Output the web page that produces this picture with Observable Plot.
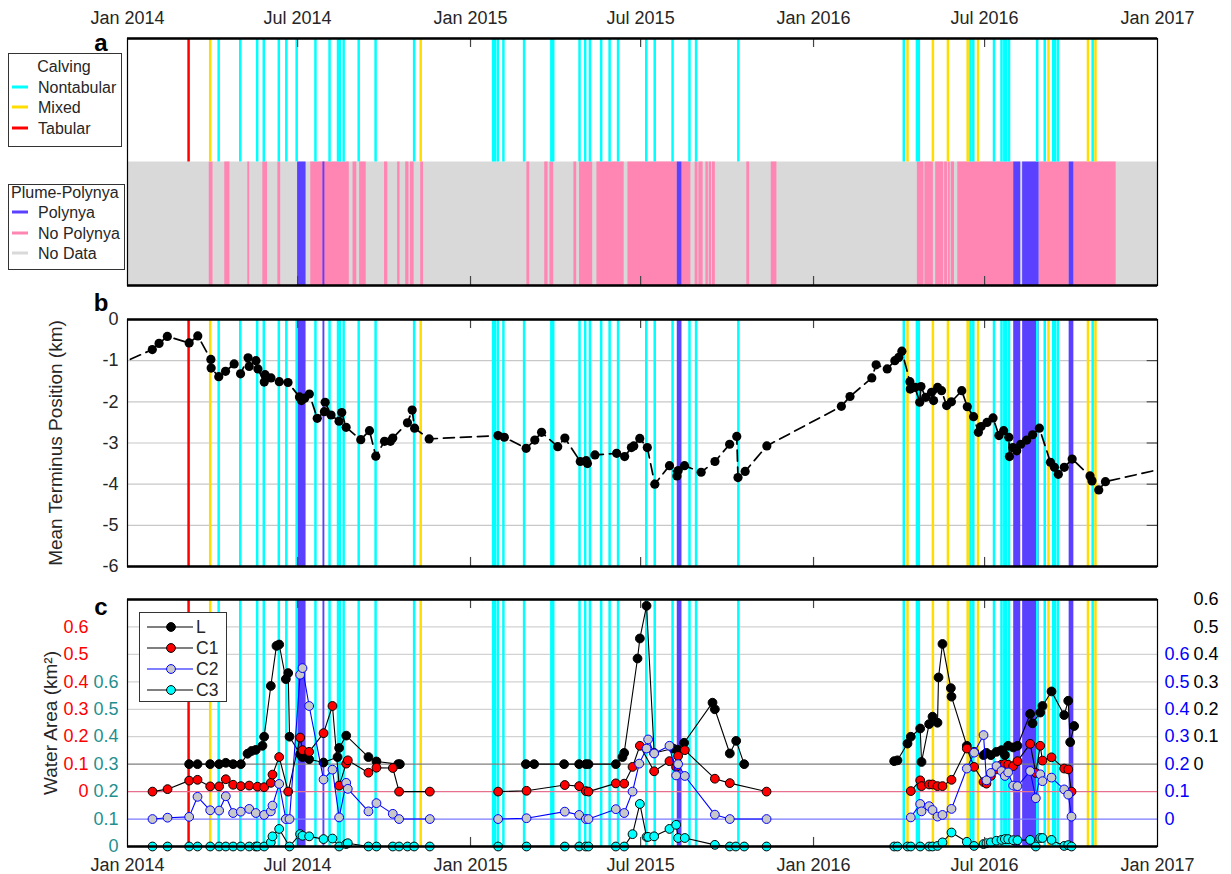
<!DOCTYPE html>
<html><head><meta charset="utf-8">
<script src="https://cdn.jsdelivr.net/npm/d3@7"></script>
<script src="https://cdn.jsdelivr.net/npm/@observablehq/plot@0.6"></script>
<style>
body{margin:0;background:#fff;}
#root{position:relative;width:1231px;height:874px;overflow:hidden;background:#fff;}
</style></head>
<body><div id="root"></div>
<script>
// ---------- DATA (days since 2014-01-01) ----------
const tickDates = ["2014-01-01","2014-07-01","2015-01-01","2015-07-01","2016-01-01","2016-07-01","2017-01-01"];
const tickLabels = ["Jan 2014","Jul 2014","Jan 2015","Jul 2015","Jan 2016","Jul 2016","Jan 2017"];

const nontabularDays = [97,120,138,145,161,169,180,200,215,224,226,230,246,264,305,389,391,394,400,422,451,453,481,487,492,504,513,522,552,561,580,598,605,650,826,840,842,897,900,922,930,933,935,938,968,976,985,987,990,1027];
const mixedDays = [88,312,830,857,873,894,905,980,1022,1030];
const tabularDays = [65];

const polynyaSegs = [[181,190],[208,210],[585,590],[943,950.5],[952.5,970],[1002,1007]];
const noPolynyaSegs = [[87,91],[103.5,109],[128,130],[144,149],[160,163],[195,236],[240,244],[247,254],[273.5,277],[287.5,290],[296,299.5],[301,305],[312,315],[425,428],[444,447.5],[449.5,453.5],[475,478],[481,495],[499.5,528.5],[532.5,585],[590,599.5],[604,607],[608,612.5],[615.5,618],[619,621.5],[622.5,625.5],[659,662],[685,691],[840.5,847.5],[848.5,857.5],[860,868.5],[869.5,872.5],[873.5,875.5],[876.5,880],[883.5,943],[970,1002],[1007,1052]];

// mean terminus position (km)
const terminus = [[-30,-1.30],[26.4,-0.73],[33.6,-0.58],[42.4,-0.41],[65.6,-0.57],[74.8,-0.40],[88.7,-0.97],[89,-1.18],[97.1,-1.39],[104.3,-1.26],[113.5,-1.08],[120.3,-1.32],[128.3,-0.93],[129.5,-1.14],[136.7,-1.00],[138.8,-1.20],[145.5,-1.52],[146.4,-1.34],[152.7,-1.42],[161.5,-1.51],[170.8,-1.53],[183,-1.88],[185.1,-1.97],[188.5,-1.91],[193.5,-1.81],[201.9,-2.40],[209.5,-2.24],[210.3,-2.01],[216.6,-2.32],[225.1,-2.47],[228,-2.26],[232.6,-2.62],[248.2,-2.92],[257.5,-2.70],[264.2,-3.32],[273.5,-2.96],[279.8,-2.96],[282.3,-2.88],[297.9,-2.51],[302.9,-2.20],[305.5,-2.64],[321,-2.90],[394.3,-2.82],[401,-2.86],[424.2,-3.13],[433.4,-2.93],[440.6,-2.74],[457.8,-3.09],[465.4,-2.88],[481.8,-3.45],[488.1,-3.43],[489.4,-3.50],[497.4,-3.29],[520.5,-3.25],[529,-3.33],[536.2,-3.11],[538.7,-3.07],[545.1,-2.89],[553.1,-3.11],[561.1,-4.00],[576.7,-3.55],[584.7,-3.80],[586,-3.67],[592.7,-3.55],[610.4,-3.71],[625.1,-3.45],[640.7,-3.03],[648.3,-2.84],[649.6,-3.84],[657.2,-3.69],[680.3,-3.07],[759.6,-2.11],[768.8,-1.87],[792,-1.42],[796.6,-1.10],[808.4,-1.20],[816.5,-1.00],[820.7,-0.92],[824,-0.77],[832.5,-1.51],[832.9,-1.69],[838,-1.65],[843,-2.01],[844.3,-1.63],[849.3,-1.89],[855.6,-1.77],[857.7,-1.97],[862,-1.65],[866.2,-1.73],[871.6,-2.09],[876.7,-2.00],[887.7,-1.73],[893.6,-2.12],[900.3,-2.36],[905.4,-2.74],[908.3,-2.60],[914.6,-2.50],[921,-2.39],[927.3,-2.82],[932.3,-2.70],[937.8,-2.86],[938.5,-3.33],[942,-3.11],[946.2,-3.19],[950.5,-3.03],[956.8,-2.93],[963.1,-2.80],[970.3,-2.64],[982.1,-3.47],[986.3,-3.59],[990.5,-3.76],[996.8,-3.59],[1005.2,-3.39],[1024.2,-3.80],[1026.3,-3.92],[1033.5,-4.14],[1040.6,-3.94],[1110,-3.58]];
const terminusTicks = [0,-1,-2,-3,-4,-5,-6];

// water area (km^2)
const seriesL = [[65.6,0],[74.5,0],[88,0],[97.5,0],[104.6,0.005],[112.4,0],[120.6,0],[127.7,0.038],[132,0.048],[136.5,0.052],[143.6,0.067],[145.4,0.10],[152.5,0.285],[158.5,0.431],[161.4,0.436],[168.5,0.31],[171,0.332],[172.4,0.10],[183.7,0.036],[186.2,0.026],[193.3,0.018],[208.6,0.006],[223.5,0.026],[225.2,0.059],[232.7,0.104],[256.4,0.026],[264.9,0.01],[288,0],[289.8,0],
 [423.9,0],[432.7,0],[464.6,0],[480.6,0],[487.7,0],[490.5,0],[519.6,0],[526.7,0.026],[528.5,0.041],[542.7,0.385],[545.2,0.458],[552.3,0.577],[560.4,0.041],[580.6,0.057],[585.2,0.053],[592.3,0.078],[622.5,0.224],[625,0.20],[640.9,0.039],[647.7,0.085],[656.2,0],
 [815.8,0.011],[819.3,0.014],[830,0.075],[833.5,0.10],[843.5,0.13],[844.9,0.008],[853,0.146],[856.6,0.173],[861.9,0.151],[863,0.316],[867.2,0.438],[876.1,0.277],[876.8,0.246],[893.1,0.067],[900.9,0.045],[910.9,0.033],[914,0.041],[918.7,0.033],[924.7,0.045],[930,0.051],[933.6,0.033],[937.1,0.067],[942.4,0.061],[947,0.067],[960.5,0.183],[963,0.149],[971.2,0.188],[973.6,0.212],[983.2,0.265],[996.7,0.179],[1001,0.231],[1003.1,0.08],[1007.3,0.139]];
const seriesC1 = [[26.6,0],[42.6,0.009],[65.6,0.04],[74.5,0.043],[88,0.019],[97.5,0.019],[104.6,0.045],[112.4,0.025],[120.6,0.02],[129.5,0.022],[138.3,0.018],[145.4,0.016],[152.5,0.032],[154.3,0.062],[161.4,0.126],[171,0],[183.7,0.197],[186.2,0.151],[193.3,0.145],[208.6,0.213],[218.1,0.312],[225.2,0.022],[232.7,0.102],[234.4,0.114],[256.4,0.069],[264.9,0.087],[282.3,0.086],[289,0],[321.7,0],
 [394.4,0],[424.6,0.003],[465.3,0.024],[480.6,0.02],[487.7,0.002],[490.5,0],[519.6,0.03],[528.5,0.029],[537.4,0.09],[545.2,0.167],[560.4,0.074],[576.7,0.111],[583.8,0.09],[585.9,0.13],[593,0.151],[625,0.047],[640.9,0.031],[680,0],
 [833.5,0.002],[843.5,0.041],[844.9,0.02],[853,0.026],[856.6,0.026],[861.9,0.02],[867.2,0.02],[876.8,0.043],[893.1,0.157],[900.9,0.09],[910.9,0.035],[914,0.029],[918.7,0.057],[924.7,0.081],[930,0.098],[933.6,0.101],[937.1,0.098],[942.4,0.093],[947,0.111],[960.5,0.174],[966.5,0.068],[971.2,0.167],[973.6,0.113],[983.2,0.125],[996.7,0.084],[1001,0.081],[1004.5,0]];
const seriesC2 = [[26.6,0],[42.6,0.005],[65.6,0.008],[74.5,0.081],[88,0.032],[97.5,0.031],[104.6,0.083],[112.4,0.022],[120.6,0.027],[129.5,0.037],[136.5,0.022],[145.4,0.015],[152.5,0.028],[154.3,0.049],[161.4,0.128],[168.5,0],[172.4,0],[183.7,0.526],[186.2,0.55],[193.3,0.412],[208.6,0.144],[218.1,0.18],[225.2,0.006],[232.7,0.132],[234.4,0.11],[256.4,0.028],[264.9,0.058],[282.3,0.019],[289,0],[321.7,0],
 [394.4,0],[424.6,0.003],[465.3,0.027],[480.6,0.015],[487.7,0],[490.5,0],[519.6,0.036],[528.5,0.022],[537.4,0.10],[544.5,0.202],[552.3,0.257],[554,0.29],[560.4,0.239],[576.7,0.267],[583.8,0.159],[585.9,0.2],[593,0.157],[625,0.016],[640.9,0],[680,0],
 [833.5,0.006],[843.5,0.055],[844.9,0.028],[853,0.047],[856.6,0.033],[861.9,0.009],[867.2,0.015],[876.8,0.037],[893.1,0.184],[900.9,0.242],[910.9,0.306],[914,0.141],[918.7,0.168],[924.7,0.193],[930,0.175],[933.6,0.157],[937.1,0.17],[942.4,0.122],[947,0.12],[960.5,0.175],[966.5,0.076],[971.2,0.163],[973.6,0.138],[983.2,0.151],[996.7,0.108],[1001,0.089],[1004.5,0.009]];
const seriesC3 = [[26.6,0],[42.6,0],[65.6,0],[74.5,0],[88,0],[97.5,0],[104.6,0],[112.4,0],[120.6,0],[129.5,0],[136.5,0],[138.3,0],[145.4,0],[152.5,0.015],[154.3,0.037],[161.4,0.064],[172.4,0],[183.7,0.045],[186.2,0.039],[193.3,0.037],[208.6,0.027],[218.1,0.029],[225.2,0],[232.7,0.009],[234.4,0.012],[256.4,0],[264.9,0],[282.3,0],[289,0],[297.9,0],[305,0],[321.7,0],
 [394.4,0],[424.6,0],[465.3,0],[480.6,0],[487.7,0],[490.5,0],[519.6,0],[528.5,0],[537.4,0.045],[545.2,0.155],[552.3,0.035],[554,0.035],[560.4,0.037],[576.7,0.064],[583.8,0.079],[585.9,0.031],[593,0.031],[625,0.006],[640.9,0],[647.3,0],[656.2,0],[680,0],
 [815.8,0],[819.3,0],[830,0],[833.5,0],[843.5,0],[853,0],[856.6,0],[861.9,0.002],[867.2,0.015],[876.8,0.051],[893.1,0.017],[900.9,0.002],[910.9,0.009],[914,0.012],[918.7,0.015],[924.7,0.021],[930,0.024],[933.6,0.027],[937.1,0.027],[942.4,0.023],[947,0.023],[960.5,0.024],[966.5,0],[971.2,0.031],[973.6,0.031],[983.2,0.024],[996.7,0.002],[1001,0.005],[1004.5,0]];
const areaTickValues = [0,0.1,0.2,0.3,0.4,0.5,0.6];
const offsetL = 0.3, offsetC1 = 0.2, offsetC2 = 0.1, offsetC3 = 0;

// ---------- STYLE ----------
const FONT = '"Liberation Sans", Arial, Helvetica, sans-serif';
const CYAN = "#00ffff", YELLOW = "#ffdd00", RED = "#ff0000", BLUE = "#5a40ff", PINK = "#ff85b3", GRAY = "#d9d9d9";
const TXT = "#262626";
const W = 1231, ML = 127, MR = 74;
const T0 = Date.UTC(2014,0,1);
const toDate = d => new Date(T0 + d * 864e5);
const X0 = toDate(0), X1 = new Date(Date.UTC(2017,0,1));
const xTicks = tickDates.map((d,i) => ({date: new Date(d + "T00:00:00Z"), label: tickLabels[i]}));
const innerTicks = xTicks.slice(1, -1);
const style = {fontFamily: FONT, fontSize: "18px", background: "transparent", color: TXT, overflow: "visible"};
const root = document.getElementById("root");
function place(el, top) { el.style.position = "absolute"; el.style.left = "0px"; el.style.top = top + "px"; root.appendChild(el); }

function calvingRules(y1, y2) {
  const o = (c) => ({x: toDate, stroke: c, strokeWidth: 2.5, ...(y1 !== undefined ? {y1: () => y1, y2: () => y2} : {})});
  return [Plot.ruleX(nontabularDays, o(CYAN)), Plot.ruleX(mixedDays, o(YELLOW)), Plot.ruleX(tabularDays, o(RED))];
}
function tickMarks(lo, hi, len) {
  return [
    Plot.ruleX(innerTicks, {x: "date", y1: () => hi, y2: () => hi - len, stroke: "#444", strokeWidth: 1.2}),
    Plot.ruleX(innerTicks, {x: "date", y1: () => lo, y2: () => lo + len, stroke: "#444", strokeWidth: 1.2})
  ];
}
const seg = () => ({x1: d => toDate(d[0]), x2: d => toDate(d[1])});

// ---------- PANEL A ----------
const plotA = Plot.plot({
  width: W, height: 290, marginTop: 38, marginBottom: 5, marginLeft: ML, marginRight: MR,
  x: {type: "utc", domain: [X0, X1], axis: null}, y: {domain: [0, 2], axis: null}, style,
  marks: [
    Plot.rect([0], {x1: () => X0, x2: () => X1, y1: () => 0, y2: () => 1, fill: GRAY}),
    Plot.rect(noPolynyaSegs, {...seg(), y1: () => 0, y2: () => 1, fill: PINK}),
    Plot.rect(polynyaSegs, {...seg(), y1: () => 0, y2: () => 1, fill: BLUE}),
    ...calvingRules(1, 2),
    ...tickMarks(0, 2, 0.073),
    Plot.frame({stroke: "#000", strokeWidth: 1.2}),
    Plot.ruleY([0, 2], {stroke: "#000", strokeWidth: 2.5}),
    Plot.text(xTicks, {x: "date", text: "label", frameAnchor: "top", lineAnchor: "middle", textAnchor: "middle", dy: -20, fontSize: 18, fill: TXT})
  ]
});
place(plotA, 0);

// ---------- PANEL B ----------
const plotB = Plot.plot({
  width: W, height: 270, marginTop: 19, marginBottom: 4, marginLeft: ML, marginRight: MR,
  x: {type: "utc", domain: [X0, X1], axis: null}, y: {domain: [-6, 0], axis: null}, style,
  marks: [
    Plot.ruleY(terminusTicks.slice(1, -1), {stroke: "#c8c8c8", strokeWidth: 1.2}),
    Plot.rect(polynyaSegs, {...seg(), y1: () => -6, y2: () => 0, fill: BLUE}),
    ...calvingRules(),
    Plot.ruleY(terminusTicks.slice(1, -1), {x1: () => toDate(1085), x2: () => X1, stroke: "#333"}),
    Plot.line(terminus, {x: d => toDate(d[0]), y: d => d[1], stroke: "#000", strokeWidth: 1.7, strokeDasharray: "11,6", clip: true}),
    Plot.dot(terminus, {x: d => toDate(d[0]), y: d => d[1], r: 4.6, fill: "#000", clip: true}),
    ...tickMarks(-6, 0, 0.22),
    Plot.frame({stroke: "#000", strokeWidth: 1.2}),
    Plot.ruleY([-6, 0], {stroke: "#000", strokeWidth: 2.5}),
    Plot.text(terminusTicks, {y: d => d, text: d => String(d), frameAnchor: "left", dx: -9, textAnchor: "end", lineAnchor: "middle", fontSize: 18, fill: TXT}),
    Plot.text(["Mean Terminus Position (km)"], {text: d => d, frameAnchor: "left", textAnchor: "middle", lineAnchor: "middle", dx: -72, rotate: -90, fontSize: 19, fill: TXT})
  ]
});
place(plotB, 300);

// ---------- PANEL C ----------
const grp = d => d[0] < 365 ? "a" : d[0] < 730 ? "b" : "c";
function series(data, off, lineColor, fill, edge) {
  return [
    Plot.line(data, {x: d => toDate(d[0]), y: d => d[1] + off, z: grp, stroke: lineColor, strokeWidth: 1.1}),
    Plot.dot(data, {x: d => toDate(d[0]), y: d => d[1] + off, r: 4.4, fill, stroke: edge, strokeWidth: 1})
  ];
}
const TEAL = "#1f8f8f";
const plotC = Plot.plot({
  width: W, height: 294, marginTop: 19, marginBottom: 28, marginLeft: ML, marginRight: MR,
  x: {type: "utc", domain: [X0, X1], axis: null}, y: {domain: [0, 0.9], axis: null}, style,
  marks: [
    Plot.ruleY([0.4, 0.5, 0.6, 0.7, 0.8], {stroke: "#d2d2d2", strokeWidth: 1.2}),
    Plot.rect(polynyaSegs, {...seg(), y1: () => 0, y2: () => 0.9, fill: BLUE}),
    ...calvingRules(),
    Plot.ruleY([offsetC2], {stroke: "#7b7bff", strokeWidth: 1.2}),
    Plot.ruleY([offsetC1], {stroke: "#e8708f", strokeWidth: 1.2}),
    Plot.ruleY([offsetL], {stroke: "#7f7f7f", strokeWidth: 1.2}),
    ...series(seriesL, offsetL, "#000", "#000", "#000"),
    ...series(seriesC1, offsetC1, "#000", RED, "#000"),
    ...series(seriesC2, offsetC2, "#0000ff", "#c8c8c8", "#0000ff"),
    ...series(seriesC3, offsetC3, "#000", CYAN, "#000"),
    ...tickMarks(0, 0.9, 0.033),
    Plot.frame({stroke: "#000", strokeWidth: 1.2}),
    Plot.ruleY([0, 0.9], {stroke: "#000", strokeWidth: 2.5}),
    Plot.text(areaTickValues, {y: d => d + offsetC1, text: d => String(d), frameAnchor: "left", dx: -39, textAnchor: "end", lineAnchor: "middle", fontSize: 18, fill: RED}),
    Plot.text(areaTickValues, {y: d => d + offsetC3, text: d => String(d), frameAnchor: "left", dx: -9, textAnchor: "end", lineAnchor: "middle", fontSize: 18, fill: TEAL}),
    Plot.text(areaTickValues, {y: d => d + offsetC2, text: d => String(d), frameAnchor: "right", dx: 7, textAnchor: "start", lineAnchor: "middle", fontSize: 18, fill: "#0000ff"}),
    Plot.text(areaTickValues, {y: d => d + offsetL, text: d => String(d), frameAnchor: "right", dx: 36, textAnchor: "start", lineAnchor: "middle", fontSize: 18, fill: "#000"}),
    Plot.text(xTicks, {x: "date", text: "label", frameAnchor: "bottom", lineAnchor: "middle", textAnchor: "middle", dy: 19, fontSize: 18, fill: TXT}),
    Plot.text(["Water Area (km²)"], {text: d => d, frameAnchor: "left", textAnchor: "middle", lineAnchor: "middle", dx: -77, rotate: -90, fontSize: 19, fill: TXT})
  ]
});
place(plotC, 580);

// ---------- LEGENDS & PANEL LETTERS ----------
const ov = d3.select(root).append("svg").attr("width", W).attr("height", 874)
  .style("position", "absolute").style("left", 0).style("top", 0).style("font-family", FONT);

function boxLegend(x, y, w, h, title, titleX, titleAnchor, titleY, items) {
  const g = ov.append("g");
  g.append("rect").attr("x", x + 0.5).attr("y", y + 0.5).attr("width", w).attr("height", h).attr("fill", "#fff").attr("stroke", "#333");
  g.append("text").attr("x", titleX).attr("y", titleY + 5.5).attr("text-anchor", titleAnchor).attr("font-size", 16).attr("fill", TXT).text(title);
  items.forEach(([label, color, cy]) => {
    g.append("line").attr("x1", 12).attr("x2", 28).attr("y1", cy).attr("y2", cy).attr("stroke", color).attr("stroke-width", 3);
    g.append("text").attr("x", 38).attr("y", cy + 5.5).attr("font-size", 16).attr("fill", TXT).text(label);
  });
}
boxLegend(8, 53, 113, 93, "Calving", 64, "middle", 66, [["Nontabular", CYAN, 87], ["Mixed", YELLOW, 107], ["Tabular", RED, 128]]);
boxLegend(8, 184, 116, 85, "Plume-Polynya", 11, "start", 192, [["Polynya", BLUE, 212], ["No Polynya", PINK, 233], ["No Data", GRAY, 253]]);

const lg = ov.append("g");
lg.append("rect").attr("x", 139.5).attr("y", 612.5).attr("width", 87).attr("height", 89).attr("fill", "#fff").attr("stroke", "#333");
[["L", "#000", "#000", "#000", 627], ["C1", "#000", RED, "#000", 648], ["C2", "#0000ff", "#c8c8c8", "#0000ff", 669], ["C3", "#000", CYAN, "#000", 690]]
  .forEach(([label, lc, fill, edge, cy]) => {
    lg.append("line").attr("x1", 147).attr("x2", 193).attr("y1", cy).attr("y2", cy).attr("stroke", lc).attr("stroke-width", 1.1);
    lg.append("circle").attr("cx", 171).attr("cy", cy).attr("r", 4.4).attr("fill", fill).attr("stroke", edge);
    lg.append("text").attr("x", 196).attr("y", cy + 6).attr("font-size", 17.5).attr("fill", TXT).text(label);
  });

[["a", 51], ["b", 311], ["c", 615]].forEach(([t, y]) =>
  ov.append("text").attr("x", 101).attr("y", y).attr("text-anchor", "middle").attr("font-size", 24).attr("font-weight", "bold").attr("fill", "#000").text(t));
</script>
</body></html>
